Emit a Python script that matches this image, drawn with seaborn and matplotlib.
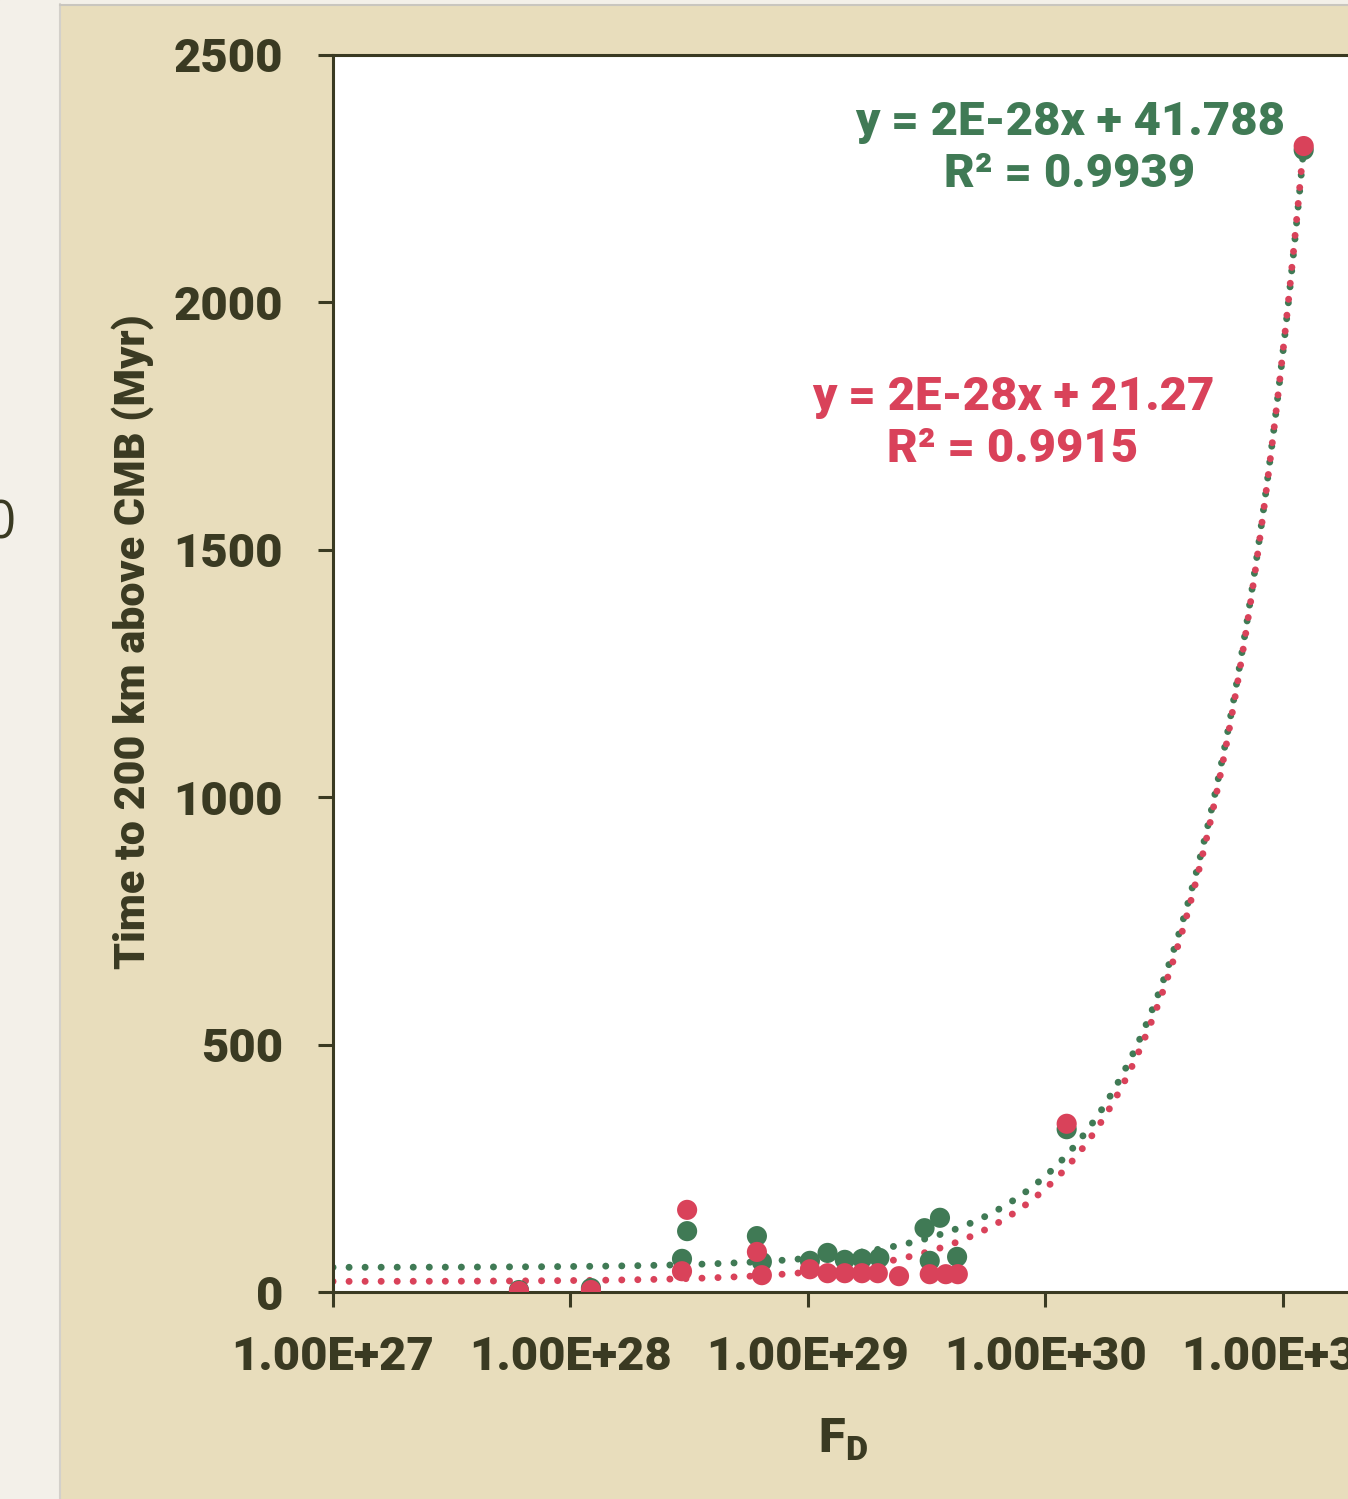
import numpy as np
import pandas as pd
import seaborn as sns
import matplotlib.pyplot as plt
from matplotlib.patches import Rectangle
from matplotlib.lines import Line2D
from matplotlib.ticker import NullLocator

# F_D values and time to 200 km above CMB (Myr)
fd_green = [6.07e27, 1.22e28, 2.95e28, 3.10e28, 6.10e28, 6.40e28, 1.02e29, 1.21e29,
            1.43e29, 1.69e29, 2.00e29, 3.10e29, 3.26e29, 3.60e29, 4.25e29, 1.23e30, 1.225e31]
t_green = [4, 8, 67, 123, 113, 61, 63, 79, 65, 67, 69, 129, 63, 150, 71, 329, 2308]

fd_red = [6.07e27, 1.22e28, 2.95e28, 3.10e28, 6.10e28, 6.40e28, 1.02e29, 1.21e29,
          1.43e29, 1.69e29, 1.97e29, 2.42e29, 3.26e29, 3.81e29, 4.28e29, 1.23e30, 1.225e31]
t_red = [2, 4, 42, 166, 81, 34, 46, 38, 38, 38, 38, 32, 36, 36, 36, 340, 2316]

x_ticks = [1e27, 1e28, 1e29, 1e30, 1e31]
x_tick_labels = ["1.00E+27", "1.00E+28", "1.00E+29", "1.00E+30", "1.00E+31"]
y_ticks = [0, 500, 1000, 1500, 2000, 2500]

eq_green = "y = 2E-28x + 41.788\nR² = 0.9939"
eq_red = "y = 2E-28x + 21.27\nR² = 0.9915"

GREEN = "#407a55"
RED = "#d9425a"
TAN = "#e8ddbc"
DARK = "#3a3a22"
OFFWHITE = "#f3f0e9"
WEIGHT = 900

df = pd.concat([
    pd.DataFrame({"FD": fd_green, "time": t_green, "series": "green"}),
    pd.DataFrame({"FD": fd_red, "time": t_red, "series": "red"}),
])

sns.set_theme(style="white")
plt.rcParams['font.family'] = ['Roboto', 'DejaVu Sans']

W, H = 1348, 1499
fig = plt.figure(figsize=(W / 100, H / 100), dpi=100)
fig.patch.set_facecolor(TAN)

# off-white page margin on the left and top, with thin grey borders
fig.add_artist(Rectangle((0, 0), 59 / W, 1, transform=fig.transFigure, color=OFFWHITE, zorder=0))
fig.add_artist(Rectangle((0, 1 - 4 / H), 1, 4 / H, transform=fig.transFigure, color=OFFWHITE, zorder=0))
fig.add_artist(Line2D([60 / W, 60 / W], [0, 1 - 4 / H], transform=fig.transFigure, color="#d3d0ca", lw=1.5))
fig.add_artist(Line2D([60 / W, 1], [1 - 5 / H, 1 - 5 / H], transform=fig.transFigure, color="#c9c6bf", lw=1.5))
fig.text(16 / W, 1 - 525 / H, "0", ha="right", va="center", fontsize=38, color=DARK,
         family=["Open Sans", "DejaVu Sans"])

ax = fig.add_axes([333 / W, 207 / H, 1021 / W, 1237 / H])
ax.set_facecolor("white")
ax.set_xscale("log")

# linear trendlines (fit on the data, drawn on the log axis)
grid = np.logspace(27, np.log10(max(fd_green)), 600)
for fd, t, col in [(fd_green, t_green, GREEN), (fd_red, t_red, RED)]:
    coef = np.polyfit(fd, t, 1)
    ax.plot(grid, np.polyval(coef, grid), color=col, lw=5.0,
            linestyle=(0, (0.01, 2.3)), dash_capstyle="round", zorder=2)

sns.scatterplot(data=df, x="FD", y="time", hue="series",
                palette={"green": GREEN, "red": RED}, s=210, edgecolor="none",
                legend=False, ax=ax, zorder=3)

ax.set_xlim(1e27, 10 ** 31.3)
ax.set_ylim(0, 2500)
ax.set_xticks(x_ticks)
ax.set_xticklabels(x_tick_labels, fontsize=34, fontweight=WEIGHT, color=DARK)
ax.xaxis.set_minor_locator(NullLocator())
ax.set_yticks(y_ticks)
ax.set_yticklabels([str(v) for v in y_ticks], fontsize=34, fontweight=WEIGHT, color=DARK)
ax.tick_params(axis="both", which="major", bottom=True, left=True, direction="out",
               length=11, width=2.2, color=DARK)
ax.tick_params(axis="y", pad=25)
ax.tick_params(axis="x", pad=20)
ax.set_xlabel("")
ax.set_ylabel("")

for side in ["left", "bottom", "top"]:
    ax.spines[side].set_visible(True)
    ax.spines[side].set_color(DARK)
    ax.spines[side].set_linewidth(2.2)
ax.spines["right"].set_visible(False)

fig.text(133 / W, 1 - 642 / H, "Time to 200 km above CMB (Myr)", rotation=90,
         ha="center", va="center", fontsize=31, fontweight=WEIGHT, color=DARK)
fig.text(843 / W, 1 - 1440 / H, r"F$_\mathregular{D}$", ha="center", va="center",
         fontsize=35, fontweight=WEIGHT, color=DARK)

fig.text(1070 / W, 1 - 148 / H, eq_green, ha="center", va="center", fontsize=34,
         fontweight=WEIGHT, color=GREEN, linespacing=1.25)
fig.text(1013 / W, 1 - 423 / H, eq_red, ha="center", va="center", fontsize=34,
         fontweight=WEIGHT, color=RED, linespacing=1.25)

fig.savefig("out.png", dpi=100, facecolor=fig.get_facecolor())
